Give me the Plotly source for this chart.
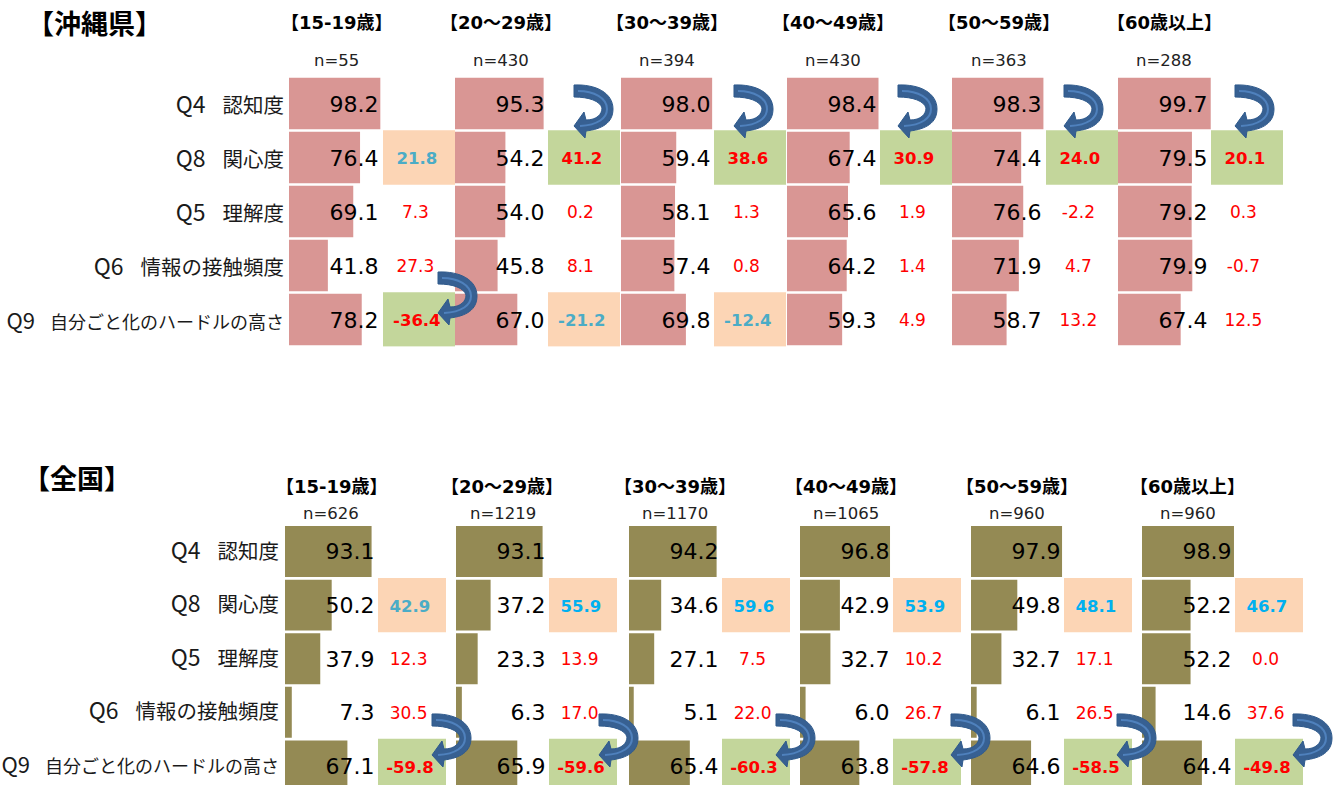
import plotly.graph_objects as go

W, H = 1342, 785
QUESTIONS = ["Q4", "Q8", "Q5", "Q6", "Q9"]
LABEL_NAMES = ["認知度", "関心度", "理解度", "情報の接触頻度", "自分ごと化のハードルの高さ"]
AGES = ["【15-19歳】", "【20～29歳】", "【30～39歳】", "【40～49歳】", "【50～59歳】", "【60歳以上】"]

OKI_N = ["n=55", "n=430", "n=394", "n=430", "n=363", "n=288"]
OKI_VALUES = [
    [98.2, 76.4, 69.1, 41.8, 78.2],
    [95.3, 54.2, 54.0, 45.8, 67.0],
    [98.0, 59.4, 58.1, 57.4, 69.8],
    [98.4, 67.4, 65.6, 64.2, 59.3],
    [98.3, 74.4, 76.6, 71.9, 58.7],
    [99.7, 79.5, 79.2, 79.9, 67.4],
]
OKI_DIFFS = [
    [None, 21.8, 7.3, 27.3, -36.4],
    [None, 41.2, 0.2, 8.1, -21.2],
    [None, 38.6, 1.3, 0.8, -12.4],
    [None, 30.9, 1.9, 1.4, 4.9],
    [None, 24.0, -2.2, 4.7, 13.2],
    [None, 20.1, 0.3, -0.7, 12.5],
]
OKI_KINDS = [
    [None, "peach", None, None, "green"],
    [None, "green", None, None, "peach"],
    [None, "green", None, None, "peach"],
    [None, "green", None, None, None],
    [None, "green", None, None, None],
    [None, "green", None, None, None],
]
NAT_N = ["n=626", "n=1219", "n=1170", "n=1065", "n=960", "n=960"]
NAT_VALUES = [
    [93.1, 50.2, 37.9, 7.3, 67.1],
    [93.1, 37.2, 23.3, 6.3, 65.9],
    [94.2, 34.6, 27.1, 5.1, 65.4],
    [96.8, 42.9, 32.7, 6.0, 63.8],
    [97.9, 49.8, 32.7, 6.1, 64.6],
    [98.9, 52.2, 52.2, 14.6, 64.4],
]
NAT_DIFFS = [
    [None, 42.9, 12.3, 30.5, -59.8],
    [None, 55.9, 13.9, 17.0, -59.6],
    [None, 59.6, 7.5, 22.0, -60.3],
    [None, 53.9, 10.2, 26.7, -57.8],
    [None, 48.1, 17.1, 26.5, -58.5],
    [None, 46.7, 0.0, 37.6, -49.8],
]
NAT_KINDS = [[None, "peach", None, None, "green"] for _ in range(6)]

CELL_COLORS = {"green": "#C3D69B", "peach": "#FCD5B5"}
FONT_NUM = "DejaVu Sans, Verdana, sans-serif"
FONT_JP = "Noto Sans CJK JP, sans-serif"
TEXT_SHIFT_PX = 2.5


def label(q, name):
    q_size, gap, body = (22, 15, 18) if q == "Q9" else (23, 17, 20.5)
    return (f'<span style="font-size:{q_size}px">{q}</span>'
            f'<span style="font-size:{gap}px">　</span>'
            f'<span style="font-size:{body}px">{name}</span>')


LABELS = [label(q, n) for q, n in zip(QUESTIONS, LABEL_NAMES)]


def px(x):
    return x / W


def py(y):
    return 1 - y / H


PANELS = [
    dict(values=OKI_VALUES, diffs=OKI_DIFFS, kinds=OKI_KINDS, color="#D99694", ns=OKI_N,
         bar_x=[289, 455, 621, 787, 952, 1118], cell_x=[383, 548, 714, 880, 1046, 1211],
         cell_w=72, unit=0.93, top=76.5, bottom=346.5, yrange=[4.5, -0.5], pitch=54.0,
         head_x=[337, 501, 667, 833, 999, 1164], head_y=23,
         n_x=[336, 501, 667, 833, 999, 1164], n_y=61, label_on_text=True, standoff=4,
         peach_colors=["#4BACC6"] * 6),
    dict(values=NAT_VALUES, diffs=NAT_DIFFS, kinds=NAT_KINDS, color="#948A54", ns=NAT_N,
         bar_x=[285, 456, 629, 800, 971, 1142], cell_x=[378, 549, 722, 893, 1064, 1235],
         cell_w=68, unit=0.93, top=524.7, bottom=H, yrange=[4.356, -0.5], pitch=53.6,
         head_x=[332, 502, 675, 846, 1017, 1187], head_y=486,
         n_x=[331, 503, 675, 846, 1017, 1188], n_y=513, label_on_text=False, standoff=5,
         peach_colors=["#4BACC6"] + ["#00B0F0"] * 5),
]

fig = go.Figure()
layout = {}
annotations = []
ax = 0
for p_i, P in enumerate(PANELS):
    yname = "y" if p_i == 0 else "y2"
    yaxis_key = "yaxis" if p_i == 0 else "yaxis2"
    ytext = f"y{p_i + 3}"
    ytext_key = f"yaxis{p_i + 3}"
    first_x = None
    for g in range(6):
        ax += 1
        xa = "x" if ax == 1 else f"x{ax}"
        key = "xaxis" if ax == 1 else f"xaxis{ax}"
        first_x = first_x or xa
        layout[key] = dict(domain=[px(P["bar_x"][g]), px(P["bar_x"][g] + 100 * P["unit"])],
                           range=[0, 100], visible=False, anchor=yname, fixedrange=True)
        fig.add_trace(go.Bar(x=P["values"][g], y=QUESTIONS, orientation="h", xaxis=xa, yaxis=yname,
                             marker=dict(color=P["color"], line_width=0), width=0.95,
                             hoverinfo="skip", showlegend=False))
        fig.add_trace(go.Scatter(x=[96.2] * 5, y=QUESTIONS, xaxis=xa, yaxis=ytext, mode="text",
                                 text=[f"{v:.1f}" for v in P["values"][g]],
                                 textposition="middle left",
                                 textfont=dict(family=FONT_NUM, size=22, color="#000000"),
                                 hoverinfo="skip", showlegend=False, cliponaxis=False))
        ax += 1
        xa = f"x{ax}"
        key = f"xaxis{ax}"
        layout[key] = dict(domain=[px(P["cell_x"][g]), px(P["cell_x"][g] + P["cell_w"])],
                           range=[0, 1], visible=False, anchor=yname, fixedrange=True)
        kinds = P["kinds"][g]
        cell_q = [q for q, k in zip(QUESTIONS, kinds) if k]
        fig.add_trace(go.Bar(x=[1] * len(cell_q), y=cell_q, orientation="h", xaxis=xa, yaxis=yname,
                             marker=dict(color=[CELL_COLORS[k] for k in kinds if k], line_width=0),
                             width=1.01, hoverinfo="skip", showlegend=False))
        texts, colors, sizes, qs, xs = [], [], [], [], []
        for q, d, k in zip(QUESTIONS, P["diffs"][g], kinds):
            if d is None:
                continue
            qs.append(q)
            texts.append(f"<b>{d:.1f}</b>" if k else f"{d:.1f}")
            colors.append(P["peach_colors"][g] if k == "peach" else "#FF0000")
            sizes.append(16.5 if k else 17)
            xs.append(0.47 if k else 0.45)
        fig.add_trace(go.Scatter(x=xs, y=qs, xaxis=xa, yaxis=ytext, mode="text",
                                 text=texts, textposition="middle center",
                                 textfont=dict(family=FONT_NUM, size=sizes, color=colors),
                                 hoverinfo="skip", showlegend=False, cliponaxis=False))
        annotations.append(dict(x=px(P["head_x"][g]), y=py(P["head_y"]), xref="paper", yref="paper",
                                text=f"<b>{AGES[g]}</b>", showarrow=False, xanchor="center", yanchor="middle",
                                font=dict(family="DejaVu Sans, Noto Sans CJK JP, sans-serif", size=18, color="#000000")))
        annotations.append(dict(x=px(P["n_x"][g]), y=py(P["n_y"]), xref="paper", yref="paper",
                                text=P["ns"][g], showarrow=False, xanchor="center", yanchor="middle",
                                font=dict(family=FONT_NUM, size=16.5, color="#222222")))
    shift = TEXT_SHIFT_PX / P["pitch"]
    tick_axis = dict(tickmode="array", tickvals=QUESTIONS, ticktext=LABELS, ticklabelstandoff=P["standoff"],
                     tickfont=dict(family=FONT_JP, size=20.5, color="#1A1A1A"), ticks="")
    base = dict(domain=[py(P["bottom"]), py(P["top"])], type="category", categoryorder="array",
                categoryarray=QUESTIONS, showgrid=False, zeroline=False, showline=False,
                anchor=first_x, fixedrange=True)
    hidden = dict(showticklabels=False, ticks="")
    layout[yaxis_key] = dict(base, range=P["yrange"], **(hidden if P["label_on_text"] else tick_axis))
    layout[ytext_key] = dict(base, range=[P["yrange"][0] - shift, P["yrange"][1] - shift],
                             **(tick_axis if P["label_on_text"] else hidden))

annotations.append(dict(x=px(94), y=py(23), xref="paper", yref="paper", text="<b>【沖縄県】</b>", showarrow=False,
                        xanchor="center", yanchor="middle", font=dict(family=FONT_JP, size=27, color="#000000")))
annotations.append(dict(x=px(77), y=py(477), xref="paper", yref="paper", text="<b>【全国】</b>", showarrow=False,
                        xanchor="center", yanchor="middle", font=dict(family=FONT_JP, size=27, color="#000000")))

# decorative curved arrows, given by the top-left of the tail
ARROW_TAILS = [(438, 272), (574, 85), (734, 85), (898, 85), (1064, 85), (1235, 85),
               (432, 714), (599, 714), (776, 714), (951, 714), (1117, 714), (1293, 714)]
OUTLINE = [("M", 0, 0), ("C", 22, -1, 39, 8, 39, 24), ("C", 39, 38, 28, 44, 12, 46), ("L", 11, 53),
           ("L", 0, 41), ("L", 10, 27), ("L", 12, 35), ("C", 23, 35, 28, 29, 28, 23), ("C", 26, 16, 15, 12, 0, 12), ("Z",)]
SHINE = [("M", 4, 6), ("C", 20, 6, 33, 13, 33, 24), ("C", 33, 33, 24, 40, 6, 41)]


def path(seg, x0, y0):
    out = []
    for s in seg:
        vals = s[1:]
        pts = [f"{px(x0 + vals[i]):.5f},{py(y0 + vals[i + 1]):.5f}" for i in range(0, len(vals), 2)]
        out.append(s[0] + " ".join(pts))
    return " ".join(out)


shapes = []
for (tx, ty) in ARROW_TAILS:
    shapes.append(dict(type="path", path=path(OUTLINE, tx, ty), xref="paper", yref="paper",
                       fillcolor="#376092", line=dict(color="#2F5A8C", width=1), layer="above"))
    shapes.append(dict(type="path", path=path(SHINE, tx, ty), xref="paper", yref="paper",
                       line=dict(color="#4F81BD", width=2), layer="above"))

fig.update_layout(width=W, height=H, margin=dict(l=0, r=0, t=0, b=0), paper_bgcolor="#FFFFFF",
                  plot_bgcolor="rgba(0,0,0,0)", showlegend=False, barmode="overlay",
                  annotations=annotations, shapes=shapes, **layout)
fig.write_html("out.html", post_script="document.body.style.margin='0';document.documentElement.style.overflow='hidden';",
               config={"displayModeBar": False})
